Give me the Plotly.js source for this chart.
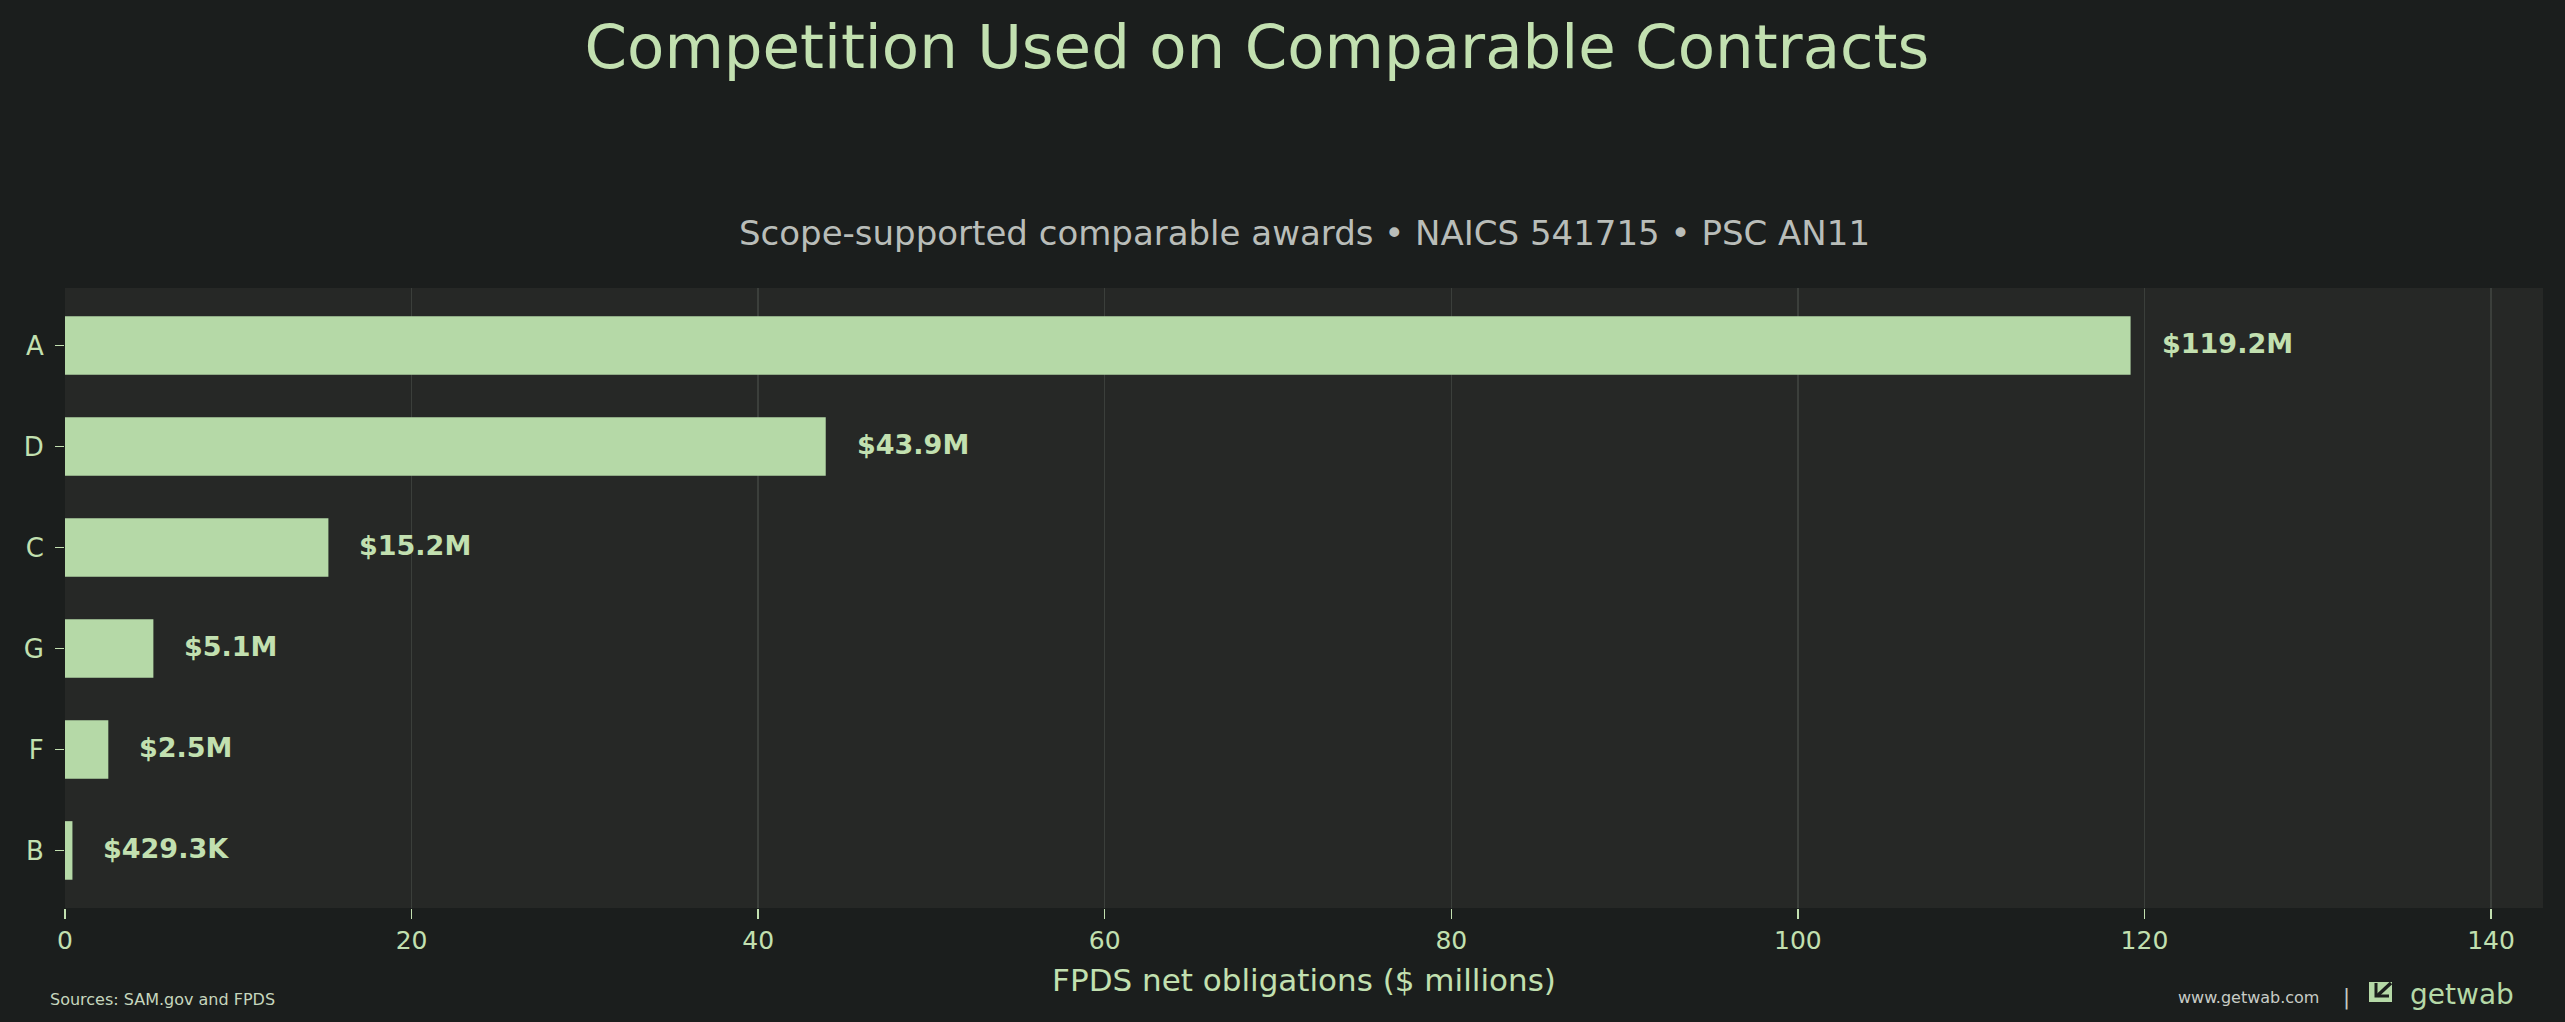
<!DOCTYPE html>
<html>
<head>
<meta charset="utf-8">
<script src="https://cdn.plot.ly/plotly-3.0.1.min.js"></script>
<style>
html,body{margin:0;padding:0;background:#1b1e1d;}
#chart{width:2565px;height:1022px;}
</style>
</head>
<body>
<div id="chart"></div>
<script>
// ---- data ----
const categories = ["A", "D", "C", "G", "F", "B"];
const values = [119.2, 43.9, 15.2, 5.1, 2.5, 0.4293];
const valueLabels = ["$119.2M", "$43.9M", "$15.2M", "$5.1M", "$2.5M", "$429.3K"];
const xTickVals = [0, 20, 40, 60, 80, 100, 120, 140];
const xTickText = ["0", "20", "40", "60", "80", "100", "120", "140"];

const titleText = "Competition Used on Comparable Contracts";
const subtitleText = "Scope-supported comparable awards \u2022 NAICS 541715 \u2022 PSC AN11";
const xTitleText = "FPDS net obligations ($ millions)";
const sourceText = "Sources: SAM.gov and FPDS";
const siteText = "www.getwab.com";
const brandText = "getwab";

// ---- style ----
const BG = "#1b1e1d";
const PLOT_BG = "#262826";
const BAR = "#b5d9a7";
const TEXT_GREEN = "#c2e0b0";
const GRID = "#3b3f3b";
const FONT = "DejaVu Sans, sans-serif";

// pixel -> paper helpers for decorations (plot area: x 65..2543, y 288..908)
const PL = 65, PW = 2478, PB = 908, PH = 620;
const px = v => (v - PL) / PW;
const py = v => (PB - v) / PH;

const trace = {
  type: "bar",
  orientation: "h",
  y: categories,
  x: values,
  width: 0.58,
  marker: {color: BAR, line: {width: 0}},
  hoverinfo: "skip"
};

const valueAnnotations = categories.map((c, i) => ({
  x: values[i], y: c, xref: "x", yref: "y",
  text: "<b>" + valueLabels[i] + "</b>",
  showarrow: false, xanchor: "left", yanchor: "middle",
  xshift: 29, yshift: 2,
  font: {family: FONT, size: 27, color: TEXT_GREEN}
}));

const layout = {
  width: 2565, height: 1022,
  paper_bgcolor: BG, plot_bgcolor: PLOT_BG,
  margin: {l: 65, r: 22, t: 288, b: 114, pad: 0},
  showlegend: false,
  font: {family: FONT, color: TEXT_GREEN},
  title: {
    text: titleText,
    x: 0.481, xanchor: "center", xref: "paper",
    y: 0.975, yanchor: "top", yref: "container",
    font: {family: FONT, size: 61, color: TEXT_GREEN}
  },
  xaxis: {
    range: [0, 143],
    tickmode: "array", tickvals: xTickVals, ticktext: xTickText,
    ticks: "outside", ticklen: 10, tickwidth: 1.5, tickcolor: TEXT_GREEN,
    tickfont: {family: FONT, size: 25, color: TEXT_GREEN},
    showgrid: true, gridcolor: GRID, gridwidth: 1.5,
    zeroline: false, showline: false,
    title: {text: xTitleText, standoff: 15, font: {family: FONT, size: 31, color: TEXT_GREEN}},
    fixedrange: true
  },
  yaxis: {
    type: "category",
    categoryorder: "array", categoryarray: categories,
    range: [5.57, -0.57],
    ticks: "outside", ticklen: 9, tickwidth: 1.5, tickcolor: TEXT_GREEN,
    tickfont: {family: FONT, size: 26, color: TEXT_GREEN},
    ticklabelstandoff: 6,
    showgrid: false, zeroline: false, showline: false,
    fixedrange: true
  },
  annotations: valueAnnotations.concat([
    {
      text: subtitleText, xref: "paper", yref: "paper", x: 0.5, y: 1, yshift: 33,
      xanchor: "center", yanchor: "bottom", showarrow: false,
      font: {family: FONT, size: 34, color: "#b9bdb9"}
    },
    {
      text: sourceText, xref: "paper", yref: "paper", x: 0, xshift: -17, y: 0, yshift: -80,
      xanchor: "left", yanchor: "top", showarrow: false,
      font: {family: FONT, size: 16, color: "#c6d6bd"}
    },
    {
      text: siteText, xref: "paper", yref: "paper", x: 1, xshift: -222, y: 0, yshift: -78,
      xanchor: "right", yanchor: "top", showarrow: false,
      font: {family: FONT, size: 16, color: "#c8ccc6"}
    },
    {
      text: "|", xref: "paper", yref: "paper", x: 1, xshift: -197, y: 0, yshift: -75,
      xanchor: "center", yanchor: "top", showarrow: false,
      font: {family: FONT, size: 21, color: "#c8ccc6"}
    },
    {
      text: brandText, xref: "paper", yref: "paper", x: 1, xshift: -27, y: 0, yshift: -68,
      xanchor: "right", yanchor: "top", showarrow: false,
      font: {family: FONT, size: 28, color: BAR}
    }
  ]),
  shapes: [
    // brand icon: filled square with a dark arrow pointing down-left
    {type: "rect", xref: "paper", yref: "paper",
     x0: px(2369), x1: px(2392), y0: py(1002), y1: py(982),
     fillcolor: BAR, line: {width: 0}},
    {type: "path", xref: "paper", yref: "paper",
     path: "M " + px(2391) + " " + py(983) + " L " + px(2377) + " " + py(996),
     line: {color: BG, width: 3.5}},
    {type: "path", xref: "paper", yref: "paper",
     path: "M " + px(2376) + " " + py(983) + " L " + px(2376) + " " + py(996) +
           " L " + px(2389) + " " + py(996),
     line: {color: BG, width: 3}}
  ]
};

Plotly.newPlot("chart", [trace], layout, {staticPlot: true, displayModeBar: false});
</script>
</body>
</html>
